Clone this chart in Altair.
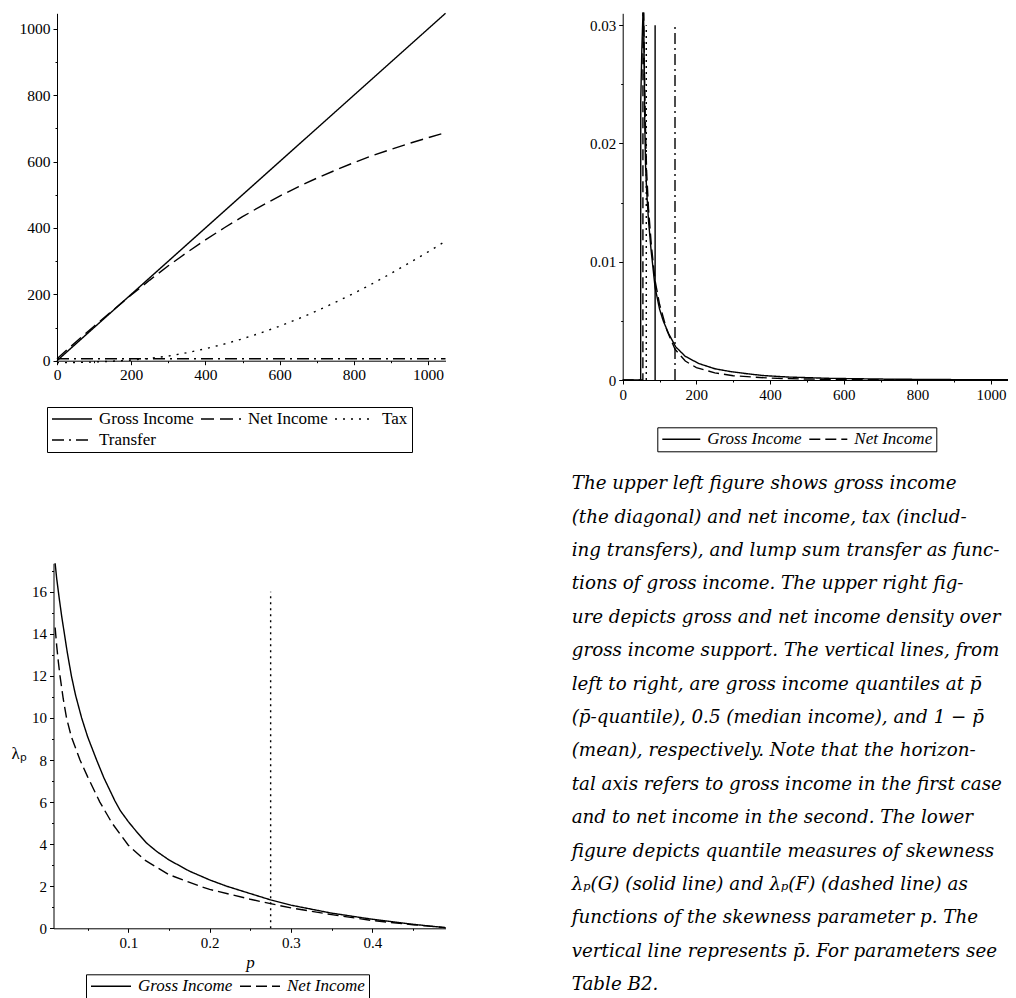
import altair as alt
import pandas as pd

SERIF = "Liberation Serif"

# ---------------- upper-left panel: income schedules ----------------
a_series = ["Gross Income", "Net Income", "Tax", "Transfer"]
a_dash = [[1, 0], [13, 6], [2, 6], [12, 5, 2, 5]]
a_income = [0, 50, 100, 150, 200, 250, 300, 350, 400, 450, 500, 550, 600, 650, 700, 750, 800, 850, 900, 950, 1000, 1047]
a_gross = [0, 50, 100, 150, 200, 250, 300, 350, 400, 450, 500, 550, 600, 650, 700, 750, 800, 850, 900, 950, 1000, 1047]
a_net = [6, 55.5, 104, 151.5, 198, 243, 286, 326, 364, 400, 434, 466, 496, 524, 550, 574, 597, 618, 637, 655, 672, 687]
a_tax = [-6, -5.5, -4, -1.5, 2, 7, 14, 24, 36, 50, 66, 84, 104, 126, 150, 176, 203, 232, 263, 295, 328, 360]
a_transfer = [6, 6, 6, 6, 6, 6, 6, 6, 6, 6, 6, 6, 6, 6, 6, 6, 6, 6, 6, 6, 6, 6]
a_ticks = [0, 200, 400, 600, 800, 1000]
a_minor = [100, 300, 500, 700, 900]

# ---------------- upper-right panel: densities ----------------
b_series = ["Gross Income", "Net Income"]
b_dash = [[1, 0], [11, 5]]
b_gross_x = [0, 48.8, 49, 52, 55, 56.5, 58, 60, 62, 65, 70, 77, 88, 100, 110, 125, 144, 170, 206, 250, 295, 340, 384, 450, 562, 700, 850, 1049]
b_gross_y = [0, 0, 0.0236, 0.0280, 0.0318, 0.0330, 0.0280, 0.0215, 0.0182, 0.0160, 0.0135, 0.0110, 0.0078, 0.0060,
             0.0050, 0.0039, 0.0028, 0.0020, 0.0014, 0.00095, 0.0007, 0.00052, 0.00037, 0.00025, 0.00014, 0.00008, 0.00004, 0.00002]
b_net_x = [0, 54.8, 55, 57, 59, 62, 65, 70, 78, 88, 100, 120, 142, 170, 200, 250, 300, 400, 500, 600, 800, 1049]
b_net_y = [0, 0, 0.0345, 0.0310, 0.0262, 0.0210, 0.0176, 0.0145, 0.0113, 0.0084, 0.0064, 0.0042, 0.0026, 0.0016,
           0.00105, 0.00060, 0.00036, 0.00016, 0.00008, 0.00004, 0.00001, 0.0]
b_vline_x = [64, 88, 142]          # p-bar quantile, median, 1-p-bar quantile
b_vline_top = [0.03, 0.03, 0.03]
b_vline_dash = [[2, 4], [1, 0], [11, 4, 2, 4]]
b_xticks = [0, 200, 400, 600, 800, 1000]
b_xminor = [100, 300, 500, 700, 900]
b_yticks = [0, 0.01, 0.02, 0.03]
b_yminor = [0.005, 0.015, 0.025]

# ---------------- lower-left panel: skewness measures ----------------
c_p_gross = [0.01, 0.012, 0.015, 0.018, 0.021, 0.025, 0.03, 0.035, 0.0426, 0.05, 0.061, 0.07, 0.0836, 0.09, 0.1,
             0.11, 0.1225, 0.135, 0.15, 0.175, 0.2, 0.221, 0.25, 0.275, 0.3, 0.35, 0.4, 0.45, 0.49]
c_gross = [17.35, 16.6, 15.7, 14.85, 14.1, 13.1, 12.0, 11.1, 10.0, 9.1, 8.0, 7.15, 6.05, 5.6, 5.07,
           4.6, 4.05, 3.65, 3.25, 2.72, 2.3, 2.0, 1.65, 1.35, 1.1, 0.72, 0.43, 0.19, 0.03]
c_p_net = [0.01, 0.012, 0.014, 0.016, 0.02, 0.024, 0.03, 0.0406, 0.05, 0.065, 0.08, 0.1, 0.12, 0.15, 0.188,
           0.2, 0.25, 0.275, 0.3, 0.35, 0.4, 0.45, 0.49]
c_net = [14.3, 13.4, 12.65, 12.0, 10.9, 10.0, 9.1, 8.0, 7.2, 6.0, 5.0, 3.95, 3.25, 2.55, 2.0,
         1.85, 1.38, 1.17, 0.97, 0.65, 0.37, 0.17, 0.03]
c_pbar = [0.275]
c_pbar_top = [16]
c_xticks = [0.1, 0.2, 0.3, 0.4]
c_xminor = [0.05, 0.15, 0.25, 0.35, 0.45]
c_yticks = [0, 2, 4, 6, 8, 10, 12, 14, 16]
c_yminor = [1, 3, 5, 7, 9, 11, 13, 15, 17]

# ---------------- caption text ----------------
caption_lines = [
    "The upper left figure shows gross income",
    "(the diagonal) and net income, tax (includ-",
    "ing transfers), and lump sum transfer as func-",
    "tions of gross income.  The upper right fig-",
    "ure depicts gross and net income density over",
    "gross income support. The vertical lines, from",
    "left to right, are gross income quantiles at p\u0304",
    "(p\u0304-quantile), 0.5 (median income), and 1 \u2212 p\u0304",
    "(mean), respectively.  Note that the horizon-",
    "tal axis refers to gross income in the first case",
    "and to net income in the second.  The lower",
    "figure depicts quantile measures of skewness",
    "\u03bb\u209a(G) (solid line) and \u03bb\u209a(F) (dashed line) as",
    "functions of the skewness parameter p.  The",
    "vertical line represents p\u0304. For parameters see",
    "Table B2.",
]

# ---------------- build tables ----------------
rows = []
for s, ys in zip(a_series, [a_gross, a_net, a_tax, a_transfer]):
    for i, (x, y) in enumerate(zip(a_income, ys)):
        rows.append({"series": s, "x": x, "y": y, "i": i})
dfA = pd.DataFrame(rows)

rows = []
for s, xs, ys in [("Gross Income", b_gross_x, b_gross_y), ("Net Income", b_net_x, b_net_y)]:
    for i, (x, y) in enumerate(zip(xs, ys)):
        rows.append({"series": s, "x": x, "y": y, "i": i})
dfB = pd.DataFrame(rows)
dfBv = pd.DataFrame({"x": b_vline_x, "y0": [0, 0, 0], "y1": b_vline_top, "k": [0, 1, 2]})

rows = []
for s, xs, ys in [("Gross Income", c_p_gross, c_gross), ("Net Income", c_p_net, c_net)]:
    for i, (x, y) in enumerate(zip(xs, ys)):
        rows.append({"series": s, "x": x, "y": y, "i": i})
dfC = pd.DataFrame(rows)
dfCv = pd.DataFrame({"x": c_pbar, "y0": [0], "y1": c_pbar_top})

dfT = pd.DataFrame({"line": list(range(len(caption_lines))), "text": caption_lines})

# ---------------- panel geometry (pixels inside the 1000x990 canvas) ----------------
W, H = 1000, 990
A_XR, A_YR = [49, 437.5], [352.7, 5.3]
B_XR, B_YR = [614.7, 1000], [372, 5.3]
C_XR, C_YR = [45.5, 437.5], [920.3, 555.3]


def sc(domain, rng, clamp=False):
    if clamp:
        return alt.Scale(domain=domain, range=rng, nice=False, zero=False, clamp=True)
    return alt.Scale(domain=domain, range=rng, nice=False, zero=False)


def major(orient, offset, values, fs, fmt, **kw):
    return alt.Axis(orient=orient, offset=offset, values=values, format=fmt, tickSize=4,
                    labelPadding=3, labelFont=SERIF, labelFontSize=fs, labelColor="black",
                    domainColor="black", domainWidth=1, tickColor="black", tickWidth=1,
                    grid=False, labelFlush=False, labelOverlap=False, **kw)


def minor(orient, offset, values):
    return alt.Axis(orient=orient, offset=offset, values=values, labels=False, domain=False,
                    tickSize=2, tickColor="black", tickWidth=1, grid=False, title=None)


def legend(x, y, cols, italic, size):
    kw = dict(orient="none", legendX=x, legendY=y, direction="horizontal", columns=cols,
              symbolType="stroke", symbolSize=size, symbolStrokeWidth=1.4, symbolStrokeColor="black",
              labelFont=SERIF, labelFontSize=17, labelColor="black", labelOffset=6,
              columnPadding=6, rowPadding=4, clipHeight=16, padding=4,
              strokeColor="black", title=None)
    if italic:
        kw["labelFontStyle"] = "italic"
    return alt.Legend(**kw)


a_dom = [0, 1047]
b_xdom, b_ydom = [0, 1046], [0, 0.031]
c_xdom, c_ydom = [0.008, 0.49], [0, 17.35]

layerA = alt.Chart(dfA).mark_line(color="black", strokeWidth=1.4).encode(
    x=alt.X("x:Q", scale=sc(a_dom, A_XR), axis=major("bottom", A_YR[0] - H, a_ticks, 15.5, "d", title=None)),
    y=alt.Y("y:Q", scale=sc(a_dom, A_YR), axis=major("left", -A_XR[0], a_ticks, 15.5, "d", title=None)),
    strokeDash=alt.StrokeDash("series:N", scale=alt.Scale(domain=a_series, range=a_dash),
                              legend=legend(39, 399, 3, False, 1600)),
    order="i:Q",
)
layerA_minor = alt.Chart(dfA).mark_point(opacity=0, size=1).encode(
    x=alt.X("x:Q", scale=sc(a_dom, A_XR), axis=minor("bottom", A_YR[0] - H, a_minor)),
    y=alt.Y("y:Q", scale=sc(a_dom, A_YR), axis=minor("left", -A_XR[0], a_minor)),
)

layerB = alt.Chart(dfB).mark_line(color="black", strokeWidth=1.4, clip=True).encode(
    x=alt.X("x:Q", scale=sc(b_xdom, B_XR), axis=major("bottom", B_YR[0] - H, b_xticks, 15, "d", title=None)),
    y=alt.Y("y:Q", scale=sc(b_ydom, B_YR, clamp=True),
            axis=major("left", -B_XR[0], b_yticks, 15, ".2~f", title=None)),
    strokeDash=alt.StrokeDash("series:N", scale=alt.Scale(domain=b_series, range=b_dash),
                              legend=legend(649.3, 419.3, 2, True, 1444)),
    order="i:Q",
)
layerB_minor = alt.Chart(dfB).mark_point(opacity=0, size=1).encode(
    x=alt.X("x:Q", scale=sc(b_xdom, B_XR), axis=minor("bottom", B_YR[0] - H, b_xminor)),
    y=alt.Y("y:Q", scale=sc(b_ydom, B_YR, clamp=True), axis=minor("left", -B_XR[0], b_yminor)),
)
b_vlayers = []
for k in range(3):
    b_vlayers.append(
        alt.Chart(dfBv).transform_filter(alt.datum.k == k)
        .mark_rule(color="black", strokeWidth=1.4, strokeDash=b_vline_dash[k])
        .encode(
            x=alt.X("x:Q", scale=sc(b_xdom, B_XR), axis=None),
            y=alt.Y("y0:Q", scale=sc(b_ydom, B_YR, clamp=True), axis=None),
            y2="y1:Q",
        )
    )

layerC = alt.Chart(dfC).mark_line(color="black", strokeWidth=1.4).encode(
    x=alt.X("x:Q", scale=sc(c_xdom, C_XR),
            axis=major("bottom", C_YR[0] - H, c_xticks, 15, ".1f", title="p", titleFont=SERIF,
                       titleFontStyle="italic", titleFontWeight="normal", titleFontSize=17,
                       titleColor="black", titleX=242, titleY=39, titleBaseline="alphabetic",
                       titleAlign="center")),
    y=alt.Y("y:Q", scale=sc(c_ydom, C_YR, clamp=True),
            axis=major("left", -C_XR[0], c_yticks, 15, "d", title="\u03bb\u209a", titleFont=SERIF,
                       titleFontWeight="normal", titleFontSize=17, titleColor="black",
                       titleAngle=0, titleX=-35, titleY=745, titleBaseline="middle",
                       titleAlign="center")),
    strokeDash=alt.StrokeDash("series:N", scale=alt.Scale(domain=b_series, range=b_dash),
                              legend=legend(78, 966.3, 2, True, 1600)),
    order="i:Q",
)
layerC_minor = alt.Chart(dfC).mark_point(opacity=0, size=1).encode(
    x=alt.X("x:Q", scale=sc(c_xdom, C_XR), axis=minor("bottom", C_YR[0] - H, c_xminor)),
    y=alt.Y("y:Q", scale=sc(c_ydom, C_YR, clamp=True), axis=minor("left", -C_XR[0], c_yminor)),
)
layerCv = alt.Chart(dfCv).mark_rule(color="black", strokeWidth=1.4, strokeDash=[2, 4]).encode(
    x=alt.X("x:Q", scale=sc(c_xdom, C_XR), axis=None),
    y=alt.Y("y0:Q", scale=sc(c_ydom, C_YR, clamp=True), axis=None),
    y2="y1:Q",
)

layerT = alt.Chart(dfT).mark_text(align="left", baseline="alphabetic", font="DejaVu Serif",
                                  fontStyle="italic", fontSize=18.3, color="black").encode(
    x=alt.value(563.7),
    y=alt.Y("line:Q", scale=sc([0, 15], [481.3, 982.2]), axis=None),
    text="text:N",
)

chart = alt.layer(
    layerA, layerA_minor, layerB, layerB_minor, *b_vlayers, layerC, layerC_minor, layerCv, layerT
).resolve_scale(
    x="independent", y="independent", strokeDash="independent"
).resolve_axis(
    x="independent", y="independent"
).resolve_legend(
    strokeDash="independent"
).properties(
    width=W, height=H, padding=0, autosize=alt.AutoSizeParams(type="none"),
    background="white",
).configure_view(stroke=None)

chart.save("out.html", embed_options={"renderer": "svg", "actions": False})
